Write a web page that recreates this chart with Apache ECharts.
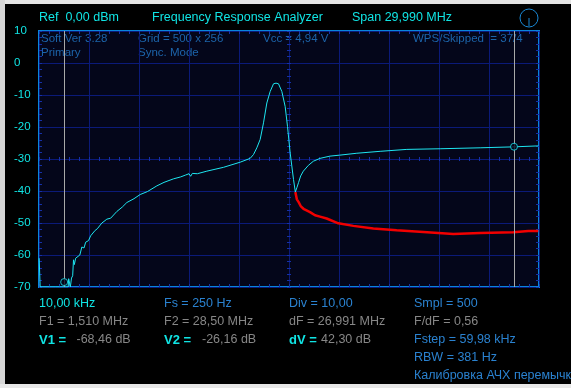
<!DOCTYPE html>
<html><head><meta charset="utf-8">
<script src="https://cdn.jsdelivr.net/npm/echarts@6/dist/echarts.min.js"></script>
<style>html,body{margin:0;padding:0;background:#000;}#c{width:571px;height:388px;}</style>
</head><body><div id="c"></div>
<script>
// ---- data (MHz / dB) ----
const cyanFreq = [0.01,0.07,1.0,1.75,1.78,1.83,1.88,1.95,2.02,2.07,2.12,2.2,2.3,2.45,2.57,2.7,2.8,2.97,3.1,3.37,3.5,3.77,3.9,4.07,4.3,4.67,5.0,5.27,5.7,6.07,6.5,7.07,7.5,8.07,8.5,8.8,8.9,9.0,9.1,9.2,9.3,9.5,10.07,11.07,12.07,12.67,12.87,13.07,13.27,13.47,13.67,13.87,14.07,14.22,14.37,14.57,14.77,14.91,15.07,15.27,15.38,15.47,15.57,15.70,15.86,16.16,16.46,16.86,17.46,18.03,19.07,20.47,22.07,24.07,26.47,28.52,29.96];
const cyanDb   = [-61,-70,-70,-70,-67.4,-67.4,-70,-67.2,-66.5,-61.5,-63,-61,-60.5,-60,-57.5,-57.8,-56,-55.5,-54,-52.3,-51.8,-50,-49.5,-48.8,-48.5,-46.4,-45,-43.6,-42.4,-41.1,-40.2,-38.4,-37.3,-36.2,-35.6,-35.0,-35.6,-34.6,-35.4,-34.5,-35.1,-34.6,-33.8,-32.6,-31.0,-29.8,-28.6,-26.5,-23.9,-18.7,-12.5,-8.9,-6.5,-6.3,-6.5,-8.9,-13.6,-19.8,-28.1,-36.4,-40.3,-39.0,-37.4,-35.3,-33.8,-32.0,-30.7,-29.8,-29.1,-28.8,-28.2,-27.6,-27.0,-26.8,-26.5,-26.2,-25.9];
const redFreq  = [15.38,15.47,15.57,15.70,15.90,16.26,16.56,16.86,17.26,17.96,18.86,20.06,21.46,23.06,24.86,26.46,28.46,29.36,29.96];
const redDb    = [-40.3,-42.6,-43.4,-44.7,-45.7,-46.6,-47.6,-48.0,-48.6,-50.1,-50.9,-51.7,-52.3,-52.8,-53.4,-53.1,-52.9,-52.5,-52.5];
const cursorFreq = [1.51, 28.50];
const cursorDb   = [-68.46, -26.16];
const yMin = -70, yMax = 10, yStep = 10;
const xMin = 0, xMax = 30, xStep = 3;

const headerTexts = ['Ref  0,00 dBm', 'Frequency Response Analyzer', 'Span 29,990 MHz'];
const infoTexts = ['Soft Ver 3.28', 'Primary', 'Grid = 500 x 256', 'Sync. Mode', 'Vcc = 4,94 V', 'WPS/Skipped  = 37/4'];
const row1 = ['10,00 kHz', 'Fs = 250 Hz', 'Div = 10,00', 'Smpl = 500'];
const row2 = ['F1 = 1,510 MHz', 'F2 = 28,50 MHz', 'dF = 26,991 MHz', 'F/dF = 0,56'];
const row3Keys = ['V1 =', 'V2 =', 'dV ='];
const row3Vals = ['-68,46 dB', '-26,16 dB', '42,30 dB'];
const row3Extra = 'Fstep = 59,98 kHz';
const row4 = 'RBW = 381 Hz';
const row5 = 'Калибровка АЧХ перемычкой';

// ---- styles ----
const FONT = "'Liberation Sans', Arial, sans-serif";
const CYAN = '#10e4e4', BLUE = '#2a82d0', GRAY = '#878787', DIM = '#1c64aa';
const GRIDC = '#0b1a78', TICKC = '#1530a8', FRAME = '#0a84dc', BG = '#04061a';

const cyanData = cyanFreq.map((f, i) => [f, cyanDb[i]]);
const redData = redFreq.map((f, i) => [f, redDb[i]]);
const markers = cursorFreq.map((f, i) => [f, cursorDb[i]]);

function T(x, y, text, fill, size, weight) {
  return { type: 'text', x: x, y: y, silent: true,
    style: { text: text, fill: fill, font: (weight || 'normal') + ' ' + size + 'px ' + FONT, verticalAlign: 'middle', align: 'left' } };
}
const colX = [39, 164, 289, 414];
const rowY = [304, 322, 340, 358, 376];
const graphics = [
  { type: 'rect', shape: { x: 0, y: 0, width: 571, height: 4 }, style: { fill: '#e4e4e4' }, silent: true },
  { type: 'rect', shape: { x: 0, y: 0, width: 5, height: 388 }, style: { fill: '#d6d6d6' }, silent: true },
  { type: 'rect', shape: { x: 0, y: 384, width: 571, height: 4 }, style: { fill: '#e8e8e8' }, silent: true },
  T(39, 18, headerTexts[0], CYAN, 12.5),
  T(152, 18, headerTexts[1], CYAN, 12.5),
  T(352, 18, headerTexts[2], CYAN, 12.5),
  { type: 'circle', shape: { cx: 529, cy: 18, r: 9 }, style: { fill: 'none', stroke: '#1a88d4', lineWidth: 1 }, silent: true },
  { type: 'line', shape: { x1: 529, y1: 18, x2: 529, y2: 26 }, style: { stroke: '#1a88d4', lineWidth: 1 }, silent: true },
  T(41, 39, infoTexts[0], DIM, 11.5),
  T(41, 53, infoTexts[1], DIM, 11.5),
  T(138, 39, infoTexts[2], DIM, 11.5),
  T(138, 53, infoTexts[3], DIM, 11.5),
  T(263, 39, infoTexts[4], DIM, 11.5),
  T(413, 39, infoTexts[5], DIM, 11.5),
  T(colX[0], rowY[0], row1[0], CYAN, 12.5),
  T(colX[1], rowY[0], row1[1], BLUE, 12.5),
  T(colX[2], rowY[0], row1[2], BLUE, 12.5),
  T(colX[3], rowY[0], row1[3], BLUE, 12.5),
  T(colX[0], rowY[1], row2[0], GRAY, 12.5),
  T(colX[1], rowY[1], row2[1], GRAY, 12.5),
  T(colX[2], rowY[1], row2[2], GRAY, 12.5),
  T(colX[3], rowY[1], row2[3], GRAY, 12.5),
  T(colX[0], rowY[2], row3Keys[0], CYAN, 13, 'bold'),
  T(76.5, rowY[2], row3Vals[0], GRAY, 12.5),
  T(colX[1], rowY[2], row3Keys[1], CYAN, 13, 'bold'),
  T(202, rowY[2], row3Vals[1], GRAY, 12.5),
  T(colX[2], rowY[2], row3Keys[2], CYAN, 13, 'bold'),
  T(321, rowY[2], row3Vals[2], GRAY, 12.5),
  T(colX[3], rowY[2], row3Extra, BLUE, 12.5),
  T(colX[3], rowY[3], row4, BLUE, 12.5),
  T(colX[3], rowY[4], row5, BLUE, 12.5)
];

const tick = (inside, len) => ({ show: true, inside: inside, length: len, lineStyle: { color: TICKC, width: 1 } });
const minor = (len) => ({ show: true, splitNumber: 5, length: len, lineStyle: { color: TICKC, width: 1 } });
const hidden = { show: false, type: 'value', min: -1, max: 1 };

const option = {
  animation: false,
  backgroundColor: '#000',
  graphic: graphics,
  grid: { left: 39, top: 31, width: 500, height: 256, show: true, backgroundColor: BG, borderColor: FRAME, borderWidth: 2, containLabel: false },
  xAxis: [
    { type: 'value', min: xMin, max: xMax, interval: xStep, position: 'bottom', offset: 0,
      axisLine: { show: false, onZero: false }, axisLabel: { show: false },
      axisTick: tick(true, 3), minorTick: minor(3),
      splitLine: { show: true, lineStyle: { color: GRIDC, width: 1 } } },
    { type: 'value', min: xMin, max: xMax, interval: xStep, position: 'top', offset: 0,
      axisLine: { show: false, onZero: false }, axisLabel: { show: false },
      axisTick: tick(true, 3), minorTick: minor(3), splitLine: { show: false } },
    { type: 'value', min: xMin, max: xMax, interval: xStep, position: 'bottom', offset: 0,
      axisLine: { show: false, onZero: true, onZeroAxisIndex: 4 }, axisLabel: { show: false },
      axisTick: tick(true, 2), minorTick: minor(2), splitLine: { show: false } },
    { type: 'value', min: xMin, max: xMax, interval: xStep, position: 'bottom', offset: 0,
      axisLine: { show: false, onZero: true, onZeroAxisIndex: 4 }, axisLabel: { show: false },
      axisTick: tick(false, 2), minorTick: minor(2), splitLine: { show: false } },
    Object.assign({ position: 'bottom' }, hidden)
  ],
  yAxis: [
    { type: 'value', min: yMin, max: yMax, interval: yStep, position: 'left', offset: 0,
      axisLine: { show: false, onZero: false },
      axisLabel: { show: true, color: CYAN, fontSize: 11.5, fontFamily: FONT, align: 'left', margin: 25 },
      axisTick: tick(true, 3), minorTick: minor(3),
      splitLine: { show: true, lineStyle: { color: GRIDC, width: 1 } } },
    { type: 'value', min: yMin, max: yMax, interval: yStep, position: 'right', offset: 0,
      axisLine: { show: false, onZero: false }, axisLabel: { show: false },
      axisTick: tick(true, 3), minorTick: minor(3), splitLine: { show: false } },
    { type: 'value', min: yMin, max: yMax, interval: yStep, position: 'left', offset: 0,
      axisLine: { show: false, onZero: true, onZeroAxisIndex: 4 }, axisLabel: { show: false },
      axisTick: tick(true, 2), minorTick: minor(2), splitLine: { show: false } },
    { type: 'value', min: yMin, max: yMax, interval: yStep, position: 'left', offset: 0,
      axisLine: { show: false, onZero: true, onZeroAxisIndex: 4 }, axisLabel: { show: false },
      axisTick: tick(false, 2), minorTick: minor(2), splitLine: { show: false } },
    Object.assign({ position: 'left' }, hidden)
  ],
  series: [
    { type: 'line', name: 'ref', data: redData, showSymbol: false, symbol: 'none',
      lineStyle: { color: '#f20000', width: 2.5 }, z: 3, silent: true },
    { type: 'line', name: 'trace', data: cyanData, showSymbol: false, symbol: 'none',
      lineStyle: { color: '#1ee6f0', width: 1 }, z: 4, silent: true,
      markLine: { silent: true, symbol: 'none', label: { show: false },
        lineStyle: { color: '#a8a8a8', width: 1, type: 'solid' },
        data: cursorFreq.map(f => ({ xAxis: f })) } },
    { type: 'scatter', name: 'cursors', data: markers, symbol: 'circle', symbolSize: 7,
      itemStyle: { color: BG, borderColor: '#1ee6f0', borderWidth: 1 }, z: 5, silent: true }
  ]
};
const chart = echarts.init(document.getElementById('c'), null, { renderer: 'canvas' });
chart.setOption(option);
</script></body></html>
